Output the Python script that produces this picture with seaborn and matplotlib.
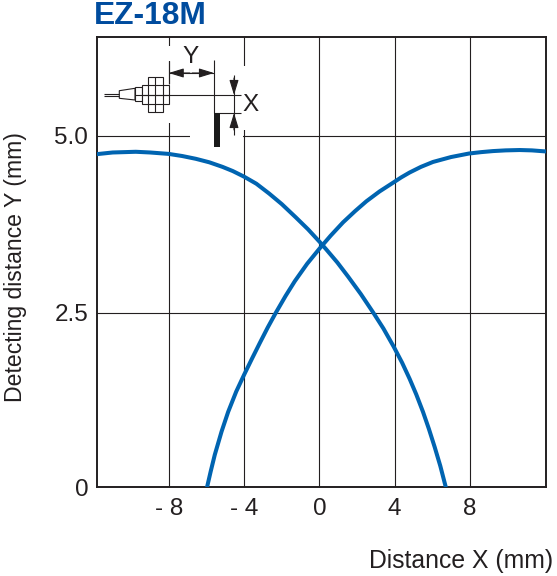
import matplotlib
matplotlib.use('Agg')
import matplotlib.pyplot as plt
from matplotlib.patches import Rectangle, Polygon
import pandas as pd
import seaborn as sns

# curves
x_fall = [-11.88, -10.99, -9.76, -9.0, -8.02, -7.3, -6.57, -5.85, -5.15, -4.6, -4.0, -3.35, -2.67, -2.0, -1.25, -0.6,
          0.02, 0.38, 0.95, 1.52, 2.2, 2.85, 3.4, 3.95, 4.4, 4.8, 5.15, 5.51, 5.82, 6.13, 6.43, 6.72]
y_fall = [4.74, 4.765, 4.775, 4.765, 4.745, 4.715, 4.675, 4.625, 4.56, 4.50, 4.42, 4.32, 4.18, 4.03, 3.84, 3.67,
          3.49, 3.38, 3.20, 3.00, 2.75, 2.49, 2.26, 2.00, 1.77, 1.54, 1.32, 1.07, 0.83, 0.57, 0.30, 0]
x_rise = [-5.97, -5.78, -5.56, -5.2, -4.85, -4.42, -4.0, -3.58, -3.17, -2.75, -2.32, -1.8, -1.31, -0.65,
          0.02, 0.6, 1.26, 1.9, 2.5, 3.2, 3.95, 4.35, 4.8, 5.4, 6.04, 7.0, 7.95, 8.6, 9.23, 9.9, 10.65, 11.3, 12.03]
y_rise = [0, 0.22, 0.46, 0.79, 1.07, 1.36, 1.60, 1.83, 2.05, 2.27, 2.48, 2.72, 2.93, 3.18,
          3.40, 3.58, 3.77, 3.93, 4.07, 4.21, 4.34, 4.41, 4.48, 4.56, 4.63, 4.70, 4.75, 4.77, 4.785, 4.795, 4.80, 4.795, 4.78]

x_ticks = [-8, -4, 0, 4, 8]
x_tick_labels = ['- 8', '- 4', '0', '4', '8']
y_ticks = [0, 2.48, 5.0]
y_tick_labels = ['0', '2.5', '5.0']

sns.set_style('white')
plt.rcParams['font.family'] = ['Liberation Sans', 'DejaVu Sans']

W, H = 557, 576
fig = plt.figure(figsize=(W / 100, H / 100), dpi=100)
ax = fig.add_axes([96.5 / W, 1 - 487 / H, 449.5 / W, 450 / H])

df_fall = pd.DataFrame({'x': x_fall, 'y': y_fall})
df_rise = pd.DataFrame({'x': x_rise, 'y': y_rise})
sns.lineplot(data=df_fall, x='x', y='y', ax=ax, color='#0064b1', linewidth=2.9, estimator=None, sort=False, zorder=3)
sns.lineplot(data=df_rise, x='x', y='y', ax=ax, color='#0064b1', linewidth=2.9, estimator=None, sort=False, zorder=3)

ax.set_xlim(-11.85, 12.05)
ax.set_ylim(0, 6.41)
ax.set_xticks(x_ticks)
ax.set_xticklabels(x_tick_labels)
ax.set_yticks(y_ticks)
ax.set_yticklabels(y_tick_labels)
ax.tick_params(length=0, labelsize=17.5, colors='#231f20', pad=8)
ax.tick_params(axis='y', pad=6)
ax.grid(True, color='#231f20', linewidth=0.8)
ax.set_axisbelow(True)
for s in ax.spines.values():
    s.set_color('#231f20')
    s.set_linewidth(1.4)
ax.set_xlabel('')
ax.set_ylabel('')

# overlay in pixel coordinates for the sensor sketch and the free text
ov = fig.add_axes([0, 0, 1, 1], facecolor='none')
ov.set_xlim(0, W)
ov.set_ylim(H, 0)
ov.axis('off')

# gaps in the grid behind the sketch
for x0, y0, w, h in [(160, 46, 16, 15), (160, 84, 16, 39), (190, 128, 53, 16), (238, 66, 12, 64)]:
    ov.add_patch(Rectangle((x0, y0), w, h, fc='white', ec='none', zorder=1))

ink = '#231f20'
def seg(x0, y0, x1, y1, lw=0.8):
    ov.plot([x0, x1], [y0, y1], color=ink, lw=lw, solid_capstyle='butt', zorder=3)

seg(168.7, 61, 168.7, 84)
seg(214, 60, 214, 113)
seg(214, 113, 241, 113)
seg(135, 95, 241, 95)
seg(104, 94.3, 119, 94.3)
seg(104, 96.3, 119, 96.3)
seg(234, 75, 234, 135)
seg(168.7, 73, 214, 73)

# sensor body
ov.add_patch(Polygon([(119.3, 90.7), (135, 88.3), (135, 100), (119.3, 98.3)], fc='white', ec=ink, lw=0.8, zorder=2))
ov.add_patch(Rectangle((135, 87.3), 6.7, 13.4, fc='white', ec=ink, lw=0.8, zorder=2))
ov.add_patch(Rectangle((141.7, 85), 27.6, 19, fc='white', ec=ink, lw=0.8, zorder=2))
ov.add_patch(Rectangle((148.3, 77.3), 14.4, 34.4, fc='white', ec=ink, lw=0.8, zorder=2))
seg(148.3, 85, 162.7, 85)
seg(148.3, 104, 162.7, 104)
seg(154.5, 77.3, 154.5, 111.7)
seg(141.7, 95, 169.3, 95)

# target plate
ov.add_patch(Rectangle((214, 113), 6, 34, fc='#1a1a1a', ec='none', zorder=4))

# dimension arrows
arrow = dict(arrowstyle='-|>,head_length=0.65,head_width=0.2', color=ink, lw=0.8, mutation_scale=14, shrinkA=0, shrinkB=0)
ov.annotate('', xy=(168.7, 73), xytext=(190, 73), arrowprops=arrow, zorder=4)
ov.annotate('', xy=(214, 73), xytext=(192, 73), arrowprops=arrow, zorder=4)
ov.annotate('', xy=(234, 95), xytext=(234, 78), arrowprops=arrow, zorder=4)
ov.annotate('', xy=(234, 113), xytext=(234, 130), arrowprops=arrow, zorder=4)

ov.text(190.5, 57, 'Y', fontsize=17.5, color=ink, ha='center', va='center')
ov.text(251, 105, 'X', fontsize=17.5, color=ink, ha='center', va='center')

ov.text(94, 16, 'EZ-18M', fontsize=22.9, fontweight='bold', color='#004c9e', ha='left', va='center')
ov.text(553, 561, 'Distance X (mm)', fontsize=17.8, color=ink, ha='right', va='center')
ov.text(16, 267, 'Detecting distance Y (mm)', fontsize=16.6, color=ink, rotation=90, ha='center', va='center')

fig.savefig('out.png', dpi=100)
